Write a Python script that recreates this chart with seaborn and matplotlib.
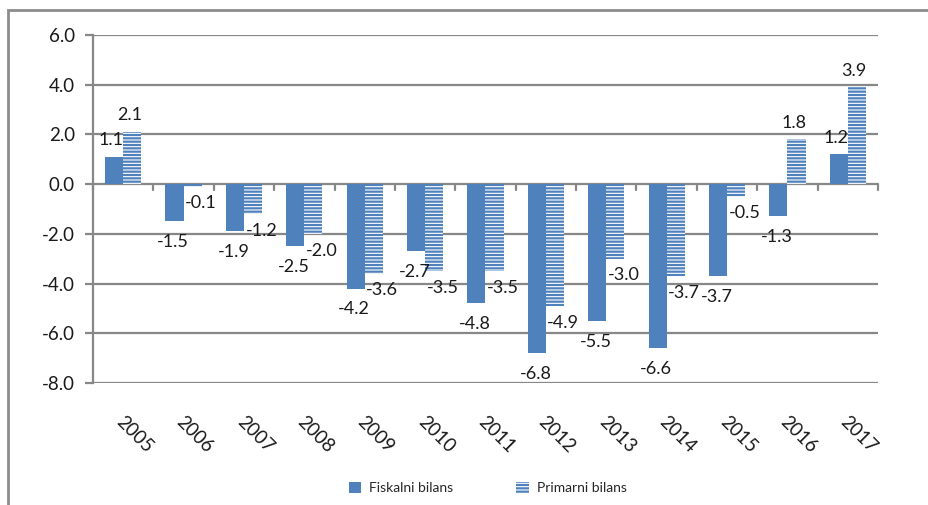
import pandas as pd
import matplotlib.pyplot as plt
import matplotlib.patches as mpatches
import matplotlib.transforms as mtrans
import seaborn as sns
import numpy as np

years = ['2005','2006','2007','2008','2009','2010','2011','2012','2013','2014','2015','2016','2017']
fiskalni = [1.1,-1.5,-1.9,-2.5,-4.2,-2.7,-4.8,-6.8,-5.5,-6.6,-3.7,-1.3,1.2]
primarni = [2.1,-0.1,-1.2,-2.0,-3.6,-3.5,-3.5,-4.9,-3.0,-3.7,-0.5,1.8,3.9]
series = ['Fiskalni bilans','Primarni bilans']

df = pd.DataFrame({'Godina': years*2,
                   'Bilans': fiskalni+primarni,
                   'Serija': [series[0]]*len(years)+[series[1]]*len(years)})

sns.set_style('white')
plt.rcParams['font.family'] = ['Lato', 'DejaVu Sans']
plt.rcParams['hatch.linewidth'] = 1.6

blue = '#4F81BD'
grid = '#878787'

fig = plt.figure(figsize=(9.29,5.05), dpi=100)
ax = fig.add_axes([93/929, 1-383/505, (878-93)/929, (383-35)/505])

sns.barplot(data=df, x='Godina', y='Bilans', hue='Serija', order=years, hue_order=series,
            palette=[blue, blue], width=0.6, gap=0, saturation=1, legend=False, ax=ax)

for p in ax.containers[1]:
    p.set_facecolor('white')
    p.set_edgecolor(blue)
    p.set_hatch('-----')
    p.set_linewidth(0)
for p in ax.containers[0]:
    p.set_linewidth(0)

ax.set_ylim(-8,6)
ax.set_xlim(-0.5,12.5)
ax.set_yticks(np.arange(-8,7,2))
ax.set_yticklabels(['%.1f' % v for v in np.arange(-8,7,2)], fontsize=13.5, color='#1a1a1a')
for v in np.arange(-8,7,2):
    ax.axhline(v, color=grid, lw=1.6, zorder=0.5)
for s in ['top','right','bottom']:
    ax.spines[s].set_visible(False)
ax.spines['left'].set_color(grid)
ax.spines['left'].set_linewidth(1.6)
ax.tick_params(axis='y', left=True, length=6, color=grid, width=1.6, pad=7)
ax.tick_params(axis='x', bottom=False, pad=18)
ax.set_xlabel('')
ax.set_ylabel('')

# category separator ticks on the zero line
for i in range(len(years)+1):
    ax.plot([i-0.5, i-0.5], [0, -0.25], color=grid, lw=1.6, zorder=0.6, clip_on=False)

ax.set_xticks(range(len(years)))
ax.set_xticklabels(years, rotation=-45, ha='center', va='top', fontsize=13.5, color='#1a1a1a')
off = mtrans.ScaledTranslation(11/100, 0, fig.dpi_scale_trans)
for lab in ax.get_xticklabels():
    lab.set_transform(lab.get_transform() + off)

# data labels
for k, cont in enumerate(ax.containers):
    vals = fiskalni if k == 0 else primarni
    for p, v in zip(cont, vals):
        cx = p.get_x() + p.get_width()/2
        if v >= 0:
            dx, dy = (-2, 12)
        elif k == 0:
            dx, dy = (-1, -15)
        else:
            dx, dy = (6, -12)
        ax.annotate('%.1f' % v, (cx, v), xytext=(dx, dy), textcoords='offset points',
                    ha='center', va='center', fontsize=13, color='#1a1a1a', zorder=5)

# legend
h1 = mpatches.Patch(facecolor=blue, edgecolor=blue, lw=0)
h2 = mpatches.Patch(facecolor='white', edgecolor=blue, hatch='-----', lw=0)
fig.legend([h1, h2], series, loc='center', bbox_to_anchor=(0.525, 0.034), ncol=2,
           frameon=False, fontsize=10, handlelength=0.9, handleheight=0.9,
           columnspacing=4.5, handletextpad=0.6)

# outer chart frame
fig.patches.append(mpatches.Rectangle((8/929, -0.1), 1.1, 1.1-10/505, transform=fig.transFigure,
                                      fill=False, edgecolor='#8c8c8c', lw=2))

fig.savefig('out.png', dpi=100)
plt.close()
